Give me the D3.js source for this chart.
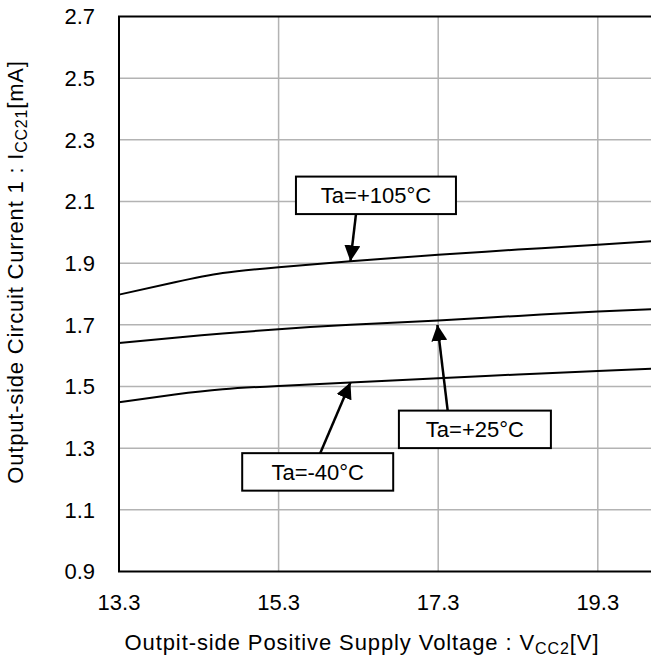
<!DOCTYPE html>
<html>
<head>
<meta charset="utf-8">
<script src="https://cdn.jsdelivr.net/npm/d3@7"></script>
<style>
  body { margin: 0; background: #fff; }
  text { font-family: "Liberation Sans", Arial, sans-serif; fill: #000; }
</style>
</head>
<body>
<div id="chart"></div>
<script>
// supply voltage V_CC2 [V]
var voltage = [13.3, 14.0, 14.6, 15.3, 16.2, 17.3, 18.3, 19.3, 20.0];
// I_CC21 [mA] per temperature
var ta105 = [1.798, 1.838, 1.868, 1.887, 1.906, 1.927, 1.944, 1.960, 1.972];
var ta25 = [1.641, 1.658, 1.672, 1.686, 1.700, 1.714, 1.729, 1.743, 1.751];
var taM40 = [1.449, 1.474, 1.491, 1.502, 1.513, 1.527, 1.539, 1.550, 1.558];
var seriesNames = ["Ta=+105°C", "Ta=+25°C", "Ta=-40°C"];

var xTicks = [13.3, 15.3, 17.3, 19.3];
var yTicks = [0.9, 1.1, 1.3, 1.5, 1.7, 1.9, 2.1, 2.3, 2.5, 2.7];

// label box centre and arrow tip / tail, in data units
var labelAt = [[16.52, 2.12], [17.76, 1.361], [15.79, 1.223]];
var arrowTip = [[16.2, 1.906], [17.29, 1.700], [16.2, 1.513]];
var arrowTail = [[16.27, 2.06], [17.42, 1.419], [15.82, 1.283]];

var width = 651, height = 658;
var plotLeft = 119, plotTop = 16.5, plotBottom = 571.5;

var svg = d3.select("#chart").append("svg")
    .attr("width", width).attr("height", height);

var x = d3.scaleLinear().domain([13.3, 20.0]).range([plotLeft, plotLeft + 6.7 * 79.8]);
var y = d3.scaleLinear().domain([0.9, 2.7]).range([plotBottom, plotTop]);

// grid
svg.append("g").selectAll("line").data(yTicks.slice(1, -1)).enter().append("line")
    .attr("x1", plotLeft).attr("x2", width)
    .attr("y1", function(d) { return y(d); }).attr("y2", function(d) { return y(d); })
    .attr("stroke", "#b3b3b3").attr("stroke-width", 1.5);
svg.append("g").selectAll("line").data(xTicks.slice(1)).enter().append("line")
    .attr("x1", function(d) { return x(d); }).attr("x2", function(d) { return x(d); })
    .attr("y1", plotTop).attr("y2", plotBottom)
    .attr("stroke", "#b3b3b3").attr("stroke-width", 1.5);

// frame
svg.append("path")
    .attr("d", "M" + width + "," + plotTop + "H" + plotLeft + "V" + plotBottom + "H" + width)
    .attr("fill", "none").attr("stroke", "#000").attr("stroke-width", 2);

// tick labels
svg.append("g").selectAll("text").data(yTicks).enter().append("text")
    .attr("x", 95).attr("y", function(d) { return y(d); })
    .attr("dy", "0.36em").attr("text-anchor", "end")
    .style("font-size", "22px")
    .text(function(d) { return d3.format(".1f")(d); });
svg.append("g").selectAll("text").data(xTicks).enter().append("text")
    .attr("x", function(d) { return x(d); }).attr("y", 610)
    .attr("text-anchor", "middle")
    .style("font-size", "22px")
    .text(function(d) { return d3.format(".1f")(d); });

// axis titles
var xt = svg.append("text").attr("x", 362).attr("y", 650)
    .attr("text-anchor", "middle").style("font-size", "22px")
    .style("letter-spacing", "0.9px");
xt.append("tspan").text("Outpit-side Positive Supply Voltage : V");
xt.append("tspan").attr("baseline-shift", "-4").style("font-size", "16px").text("CC2");
xt.append("tspan").attr("baseline-shift", "0").text("[V]");

var yt = svg.append("text")
    .attr("transform", "translate(23,272) rotate(-90)")
    .attr("text-anchor", "middle").style("font-size", "22px")
    .style("letter-spacing", "0.8px");
yt.append("tspan").text("Output-side Circuit Current 1 : I");
yt.append("tspan").attr("baseline-shift", "-4").style("font-size", "16px").text("CC21");
yt.append("tspan").attr("baseline-shift", "0").text("[mA]");

// curves
var line = d3.line()
    .x(function(d) { return x(d[0]); })
    .y(function(d) { return y(d[1]); })
    .curve(d3.curveNatural);

[ta105, ta25, taM40].forEach(function(s) {
    svg.append("path")
        .datum(d3.zip(voltage, s))
        .attr("d", line)
        .attr("fill", "none").attr("stroke", "#000").attr("stroke-width", 2);
});

// arrows
svg.append("defs").append("marker")
    .attr("id", "head").attr("viewBox", "0 0 10 10")
    .attr("refX", 10).attr("refY", 5)
    .attr("markerWidth", 16).attr("markerHeight", 16)
    .attr("markerUnits", "userSpaceOnUse")
    .attr("orient", "auto")
    .append("path").attr("d", "M0,0L10,5L0,10Z").attr("fill", "#000");

svg.append("g").selectAll("line").data(arrowTip).enter().append("line")
    .attr("x1", function(d, i) { return x(arrowTail[i][0]); })
    .attr("y1", function(d, i) { return y(arrowTail[i][1]); })
    .attr("x2", function(d) { return x(d[0]); })
    .attr("y2", function(d) { return y(d[1]); })
    .attr("stroke", "#000").attr("stroke-width", 2.5)
    .attr("marker-end", "url(#head)");

// label boxes
var boxW = [160, 152, 151], boxH = 37.5;
var lab = svg.append("g").selectAll("g").data(seriesNames).enter().append("g")
    .attr("transform", function(d, i) {
        return "translate(" + x(labelAt[i][0]) + "," + y(labelAt[i][1]) + ")";
    });
lab.append("rect")
    .attr("x", function(d, i) { return -boxW[i] / 2; }).attr("y", -boxH / 2)
    .attr("width", function(d, i) { return boxW[i]; }).attr("height", boxH)
    .attr("fill", "#fff").attr("stroke", "#000").attr("stroke-width", 2);
lab.append("text")
    .attr("text-anchor", "middle").attr("dy", "0.36em")
    .style("font-size", "22px")
    .text(function(d) { return d; });
</script>
</body>
</html>
